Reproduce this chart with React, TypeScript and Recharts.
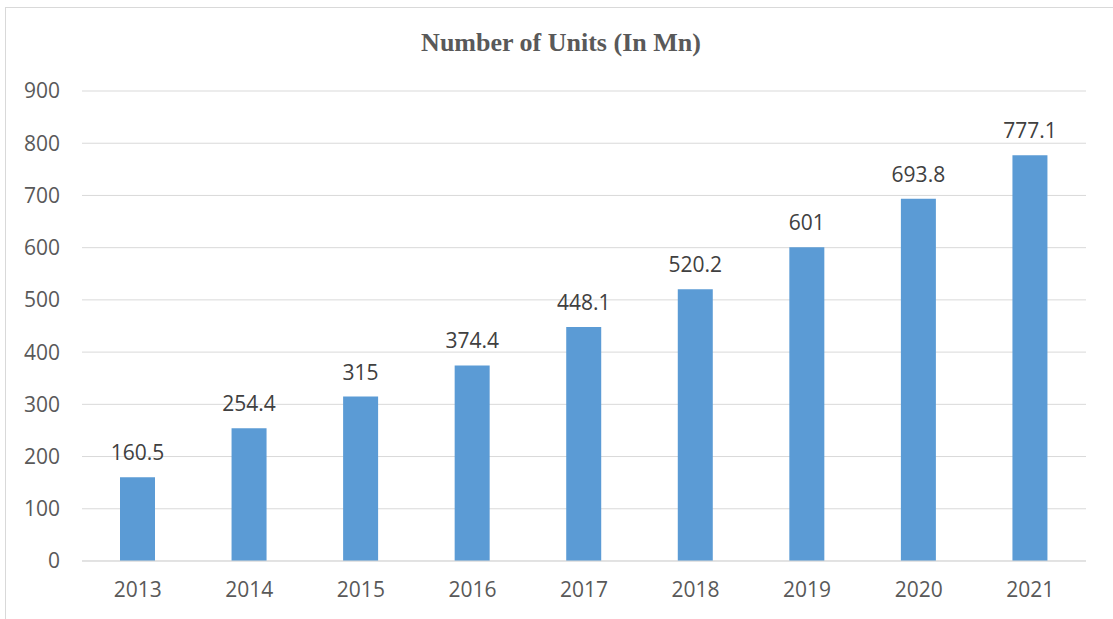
import { BarChart, Bar, XAxis, YAxis, CartesianGrid, LabelList } from 'recharts'

const years = ['2013', '2014', '2015', '2016', '2017', '2018', '2019', '2020', '2021']
const units = [160.5, 254.4, 315, 374.4, 448.1, 520.2, 601, 693.8, 777.1]
const yTicks = [0, 100, 200, 300, 400, 500, 600, 700, 800, 900]

const FONT = '"Open Sans", "Noto Sans", sans-serif'

export default function App() {
  const data = years.map((year, i) => ({ year, units: units[i] }))

  return (
    <div
      style={{
        position: 'absolute',
        left: 5,
        top: 7,
        width: 1120,
        height: 620,
        borderLeft: '1px solid #d9d9d9',
        borderTop: '1px solid #d9d9d9',
        background: '#fff',
      }}
    >
      <div
        style={{
          position: 'absolute',
          left: 0,
          width: 1110,
          top: 20,
          textAlign: 'center',
          fontFamily: '"Liberation Serif", "Times New Roman", serif',
          fontWeight: 'bold',
          fontSize: 26,
          color: '#595959',
        }}
      >
        Number of Units (In Mn)
      </div>
      <BarChart
        width={1110}
        height={615}
        data={data}
        margin={{ top: 83, right: 30, bottom: 12, left: 0 }}
      >
        <CartesianGrid vertical={false} stroke="#d9d9d9" />
        <XAxis
          dataKey="year"
          height={50}
          axisLine={{ stroke: '#d9d9d9' }}
          tickLine={false}
          tickMargin={15}
          tick={{ fontSize: 21, fill: '#595959', fontFamily: FONT }}
        />
        <YAxis
          width={76}
          domain={[0, 900]}
          ticks={yTicks}
          axisLine={false}
          tickLine={false}
          tickMargin={16}
          tick={{ fontSize: 21, fill: '#595959', fontFamily: FONT }}
        />
        <Bar dataKey="units" fill="#5b9bd5" barSize={35} isAnimationActive={false}>
          <LabelList
            dataKey="units"
            position="top"
            offset={17}
            style={{ fontSize: 21, fill: '#404040', fontFamily: FONT }}
          />
        </Bar>
      </BarChart>
    </div>
  )
}
